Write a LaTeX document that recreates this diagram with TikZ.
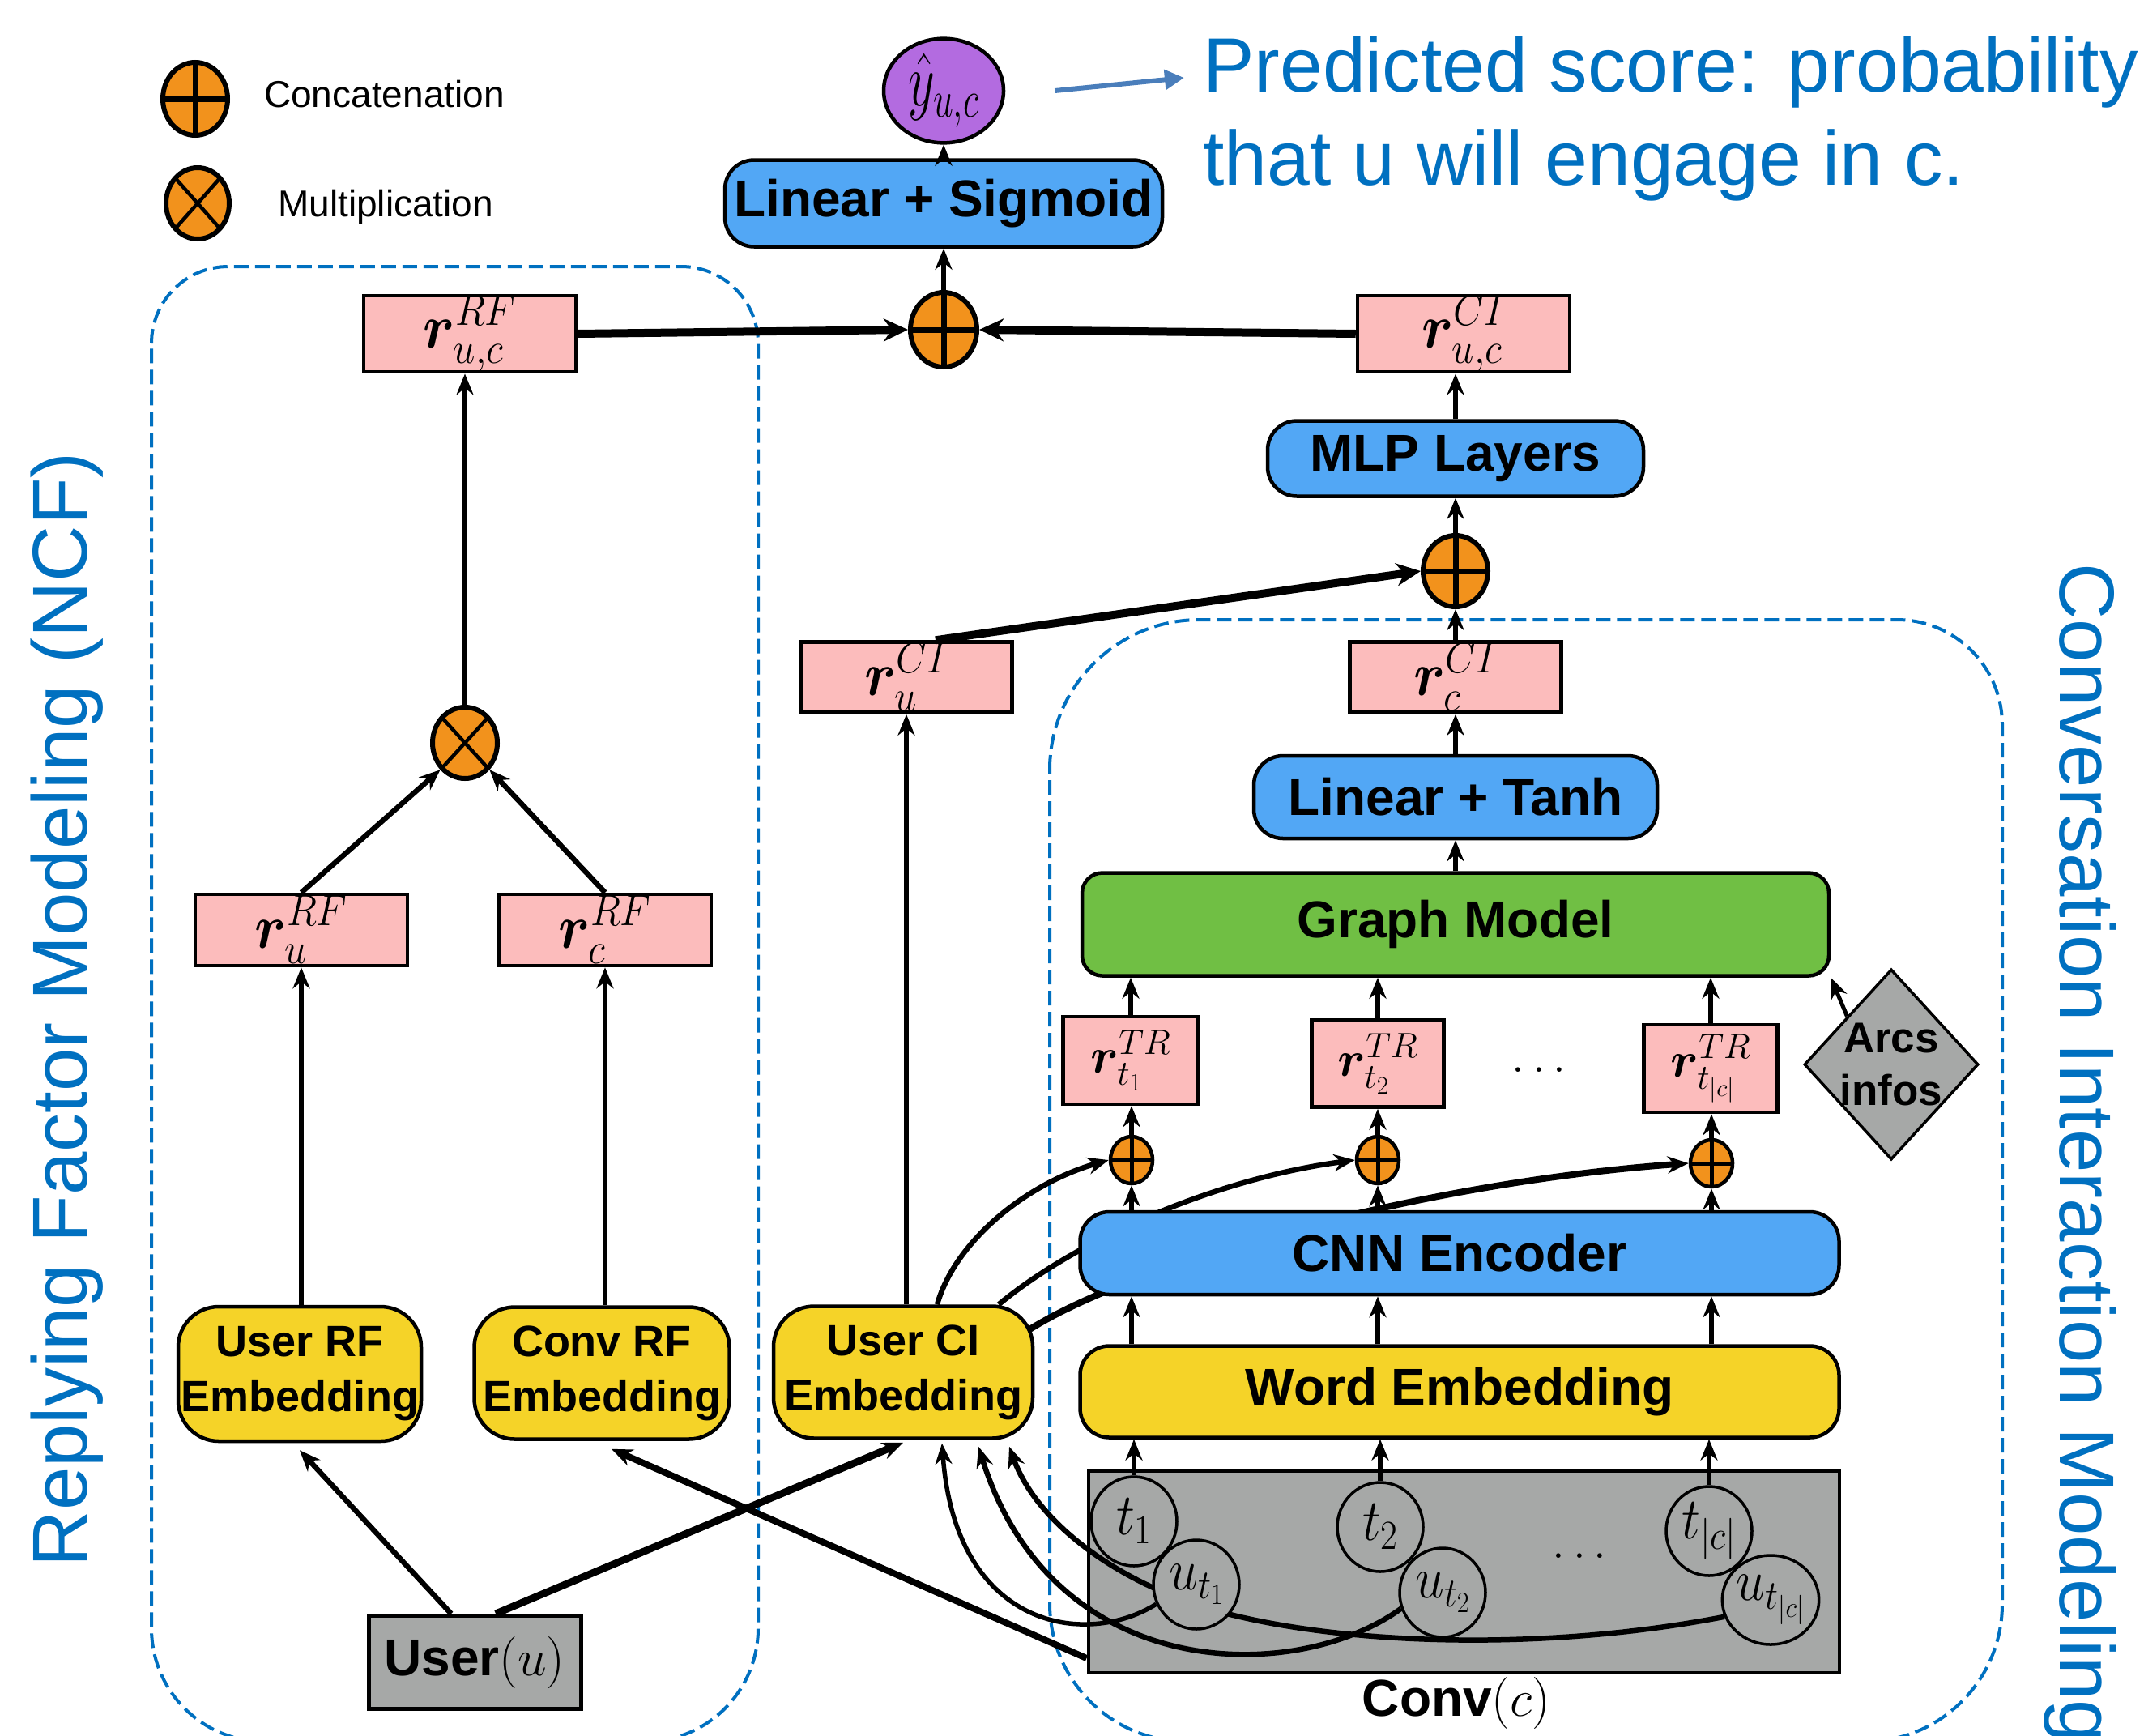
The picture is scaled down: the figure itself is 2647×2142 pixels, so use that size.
\RequirePackage{fix-cm}
\documentclass[tikz,border=0pt]{standalone}
\usepackage[no-math]{fontspec}
\setmainfont{Liberation Sans}
\usepackage{bm}
\usetikzlibrary{shapes.geometric,arrows.meta,calc}
\pgfdeclarelayer{bg}
\pgfdeclarelayer{mid}
\pgfsetlayers{bg,mid,main}
\definecolor{cblue}{RGB}{82,167,245}
\definecolor{cyel}{RGB}{245,211,40}
\definecolor{cgreen}{RGB}{112,191,68}
\definecolor{cpink}{RGB}{252,188,188}
\definecolor{cgray}{RGB}{166,168,167}
\definecolor{corange}{RGB}{242,146,28}
\definecolor{cpurple}{RGB}{179,107,224}
\definecolor{tblue}{RGB}{0,112,192}
\definecolor{sblue}{RGB}{74,126,187}
\newcommand\tokm[1]{\scalebox{1.15}[1.3]{$#1$}}
\tikzset{
 blk/.style={draw, line width=4.5pt, inner sep=0pt},
 ibox/.style={blk, rounded corners=36pt, font=\fontsize{64}{70}\selectfont\bfseries},
 emb/.style={blk, fill=cyel, rounded corners=50pt, align=center, font=\fontsize{54}{68}\selectfont\bfseries},
 rbox/.style={blk, fill=cpink, minimum width=262pt, minimum height=88pt, font=\fontsize{70}{70}\selectfont},
 tbox/.style={blk, fill=cpink, font=\fontsize{62}{62}\selectfont},
 tok/.style={ellipse, draw, line width=3.5pt, fill=cgray, minimum width=106pt, minimum height=110pt, inner sep=0pt, font=\fontsize{56}{56}\selectfont},
 catbase/.style={ellipse, draw, fill=corange, inner sep=0pt},
 cat/.style={catbase, line width=6pt, minimum width=82pt, minimum height=92pt,
   path picture={\draw[line width=7pt] (path picture bounding box.north)--(path picture bounding box.south) (path picture bounding box.west)--(path picture bounding box.east);}},
 scat/.style={catbase, line width=4.5pt, minimum width=52pt, minimum height=58pt,
   path picture={\draw[line width=5pt] (path picture bounding box.north)--(path picture bounding box.south) (path picture bounding box.west)--(path picture bounding box.east);}},
 mul/.style={catbase, line width=6pt, minimum width=80pt, minimum height=88pt,
   path picture={\draw[line width=4.5pt] (path picture bounding box.north west)--(path picture bounding box.south east) (path picture bounding box.north east)--(path picture bounding box.south west);}},
 arr/.style={line width=6.5pt, -{Stealth[length=26pt,width=21pt]}},
 thk/.style={line width=10pt, -{Stealth[length=30pt,width=28pt]}},
 crv/.style={line width=6.5pt, -{Stealth[length=26pt,width=21pt]}},
 dbox/.style={draw=tblue, line width=4pt, dash pattern=on 18pt off 8pt},
 side/.style={text=tblue, inner sep=0pt, font=\fontsize{96}{96}\selectfont}
}
\begin{document}
\begin{tikzpicture}[x=1pt,y=-1pt]
\useasboundingbox (0,0) rectangle (2647,2142);

\begin{pgfonlayer}{bg}
\fill[white] (0,0) rectangle (2647,2142);
% Replying factor region
\path[dbox] (187,424) .. controls (187,371.5) and (229.5,329) .. (282,329) -- (841,329)
  .. controls (893.5,329) and (936,371.5) .. (936,424) -- (936,2010)
  .. controls (936,2087.3) and (873.3,2150) .. (796,2150) -- (327,2150)
  .. controls (249.7,2150) and (187,2087.3) .. (187,2010) -- cycle;
% Conversation interaction region
\path[dbox] (1296,950) .. controls (1296,847.8) and (1378.8,765) .. (1481,765) -- (2342,765)
  .. controls (2413.8,765) and (2472,823.2) .. (2472,895) -- (2472,1980)
  .. controls (2472,2073.9) and (2395.9,2150) .. (2302,2150) -- (1466,2150)
  .. controls (1372.1,2150) and (1296,2073.9) .. (1296,1980) -- cycle;
\node[blk, line width=4pt, fill=cgray, minimum width=927pt, minimum height=249pt] (conv) at (1807,1940) {};
\end{pgfonlayer}

% legend
\node[cat, minimum width=80pt, minimum height=90pt] (lgc) at (241,122) {};
\node[anchor=base west, inner sep=0pt, font=\fontsize{46}{46}\selectfont] (lgct) at (326,132) {Concatenation};
\node[mul, minimum width=78pt, minimum height=88pt] (lgm) at (244,251) {};
\node[anchor=base west, inner sep=0pt, font=\fontsize{46}{46}\selectfont] (lgmt) at (343,267) {Multiplication};

% side titles
\node[side, rotate=90, anchor=base] (lside) at (107,1246) {Replying Factor Modeling (NCF)};
\node[side, rotate=-90, anchor=base] (rside) at (2543,1424) {Conversation Interaction Modeling};

% top part
\node[ellipse, draw, line width=4.5pt, fill=cpurple, minimum width=148pt, minimum height=108pt, inner sep=0pt, font=\fontsize{58}{58}\selectfont] (yhat) at (1165,112) {\scalebox{1.1}[1.6]{$\hat{y}_{u,c}$}};
\node[anchor=base west, align=left, text=tblue, inner sep=0pt, font=\fontsize{95}{115}\selectfont] (pred) at (1485,228) {Predicted score: probability\\that u will engage in c.};
\coordinate (predtip) at (1462,96);
\node[ibox, fill=cblue, minimum width=540pt, minimum height=107pt] (lsig) at (1165,251) {Linear + Sigmoid};
\node[cat] (ctop) at (1165,407) {};
\node[rbox] (rRFuc) at (580,412) {\scalebox{1}[1.1]{$\bm{r}^{RF}_{u,c}$}};
\node[rbox] (rCIuc) at (1807,412) {\scalebox{1}[1.1]{$\bm{r}^{CI}_{u,c}$}};
\node[ibox, fill=cblue, minimum width=464pt, minimum height=93pt] (mlp) at (1797,566) {MLP Layers};
\node[cat, minimum width=80pt, minimum height=88pt] (cci) at (1797,705) {};
\node[rbox, minimum width=261pt, minimum height=87pt] (rCIc) at (1797,836) {\scalebox{1}[1.1]{$\bm{r}^{CI}_{c}$}};
\node[rbox, minimum width=261pt, minimum height=87pt] (rCIu) at (1119,836) {\scalebox{1}[1.1]{$\bm{r}^{CI}_{u}$}};

% CI column
\node[ibox, fill=cblue, minimum width=498pt, minimum height=102pt] (ltanh) at (1797,984) {Linear + Tanh};
\node[ibox, fill=cgreen, rounded corners=25pt, minimum width=922pt, minimum height=127pt] (graph) at (1797,1141) {Graph Model};
\node[tbox, minimum width=167pt, minimum height=108pt] (rt1) at (1396,1309) {$\bm{r}^{TR}_{t_1}$};
\node[tbox, minimum width=163pt, minimum height=107pt] (rt2) at (1701,1313) {$\bm{r}^{TR}_{t_2}$};
\node[tbox, minimum width=165pt, minimum height=108pt] (rtc) at (2112,1319) {$\bm{r}^{TR}_{t_{|c|}}$};
\node[inner sep=0pt, font=\fontsize{58}{58}\selectfont] (dots1) at (1900,1321) {$\ldots$};
\node[diamond, draw, line width=3.5pt, fill=cgray, minimum width=215pt, minimum height=235pt, inner sep=0pt,
  label={[font=\fontsize{53}{65}\selectfont\bfseries, align=center]center:Arcs\\infos}] (arcs) at (2335,1314) {};
\node[scat] (c1) at (1397,1432) {};
\node[scat] (c2) at (1701,1432) {};
\node[scat] (c3) at (2113,1436) {};
\node[ibox, fill=cblue, minimum width=937pt, minimum height=102pt] (cnn) at (1802,1547) {CNN Encoder};
\node[ibox, fill=cyel, minimum width=937pt, minimum height=113pt] (wemb) at (1802,1718) {Word Embedding};

% conversation tokens
\node[tok] (t1) at (1400,1878) {\tokm{t_1}};
\node[tok] (t2) at (1704,1885) {\tokm{t_2}};
\node[tok] (tc) at (2110,1890) {\tokm{t_{|c|}}};
\node[tok] (ut1) at (1477,1956) {\tokm{u_{t_1}}};
\node[tok] (ut2) at (1781,1966) {\tokm{u_{t_2}}};
\node[tok] (utc) at (2186,1975) {\tokm{u_{t_{|c|}}}};
\node[inner sep=0pt, font=\fontsize{58}{58}\selectfont] (dots2) at (1950,1921) {$\ldots$};
\node[font=\fontsize{64}{64}\selectfont\bfseries] (convlbl) at (1798,2102) {Conv$(c)$};

% RF side
\node[emb, minimum width=300pt, minimum height=166pt] (uRF) at (370,1696) {User RF\\Embedding};
\node[emb, minimum width=315pt, minimum height=163pt] (cRF) at (743,1695) {Conv RF\\Embedding};
\node[emb, minimum width=320pt, minimum height=163pt] (uCI) at (1115,1694) {User CI\\Embedding};
\node[blk, line width=5pt, fill=cgray, minimum width=262pt, minimum height=115pt, font=\fontsize{64}{64}\selectfont\bfseries] (user) at (586,2052) {User$(u)$};
\node[rbox] (rRFu) at (372,1148) {\scalebox{1}[1.1]{$\bm{r}^{RF}_{u}$}};
\node[rbox] (rRFc) at (747,1148) {\scalebox{1}[1.1]{$\bm{r}^{RF}_{c}$}};
\node[mul] (mult) at (574,917) {};

% connectors
\draw[line width=6pt, sblue, -{Triangle[length=24pt,width=24pt]}] ([xshift=61pt]yhat.east) -- (predtip);
\draw[arr] (lsig.north) -- (yhat.south);
\draw[arr] (ctop.north) -- (lsig.south);
\draw[thk] (rRFuc.east) -- (ctop.west);
\draw[thk] (rCIuc.west) -- (ctop.east);
\draw[arr] (mlp.north) -- (mlp.north |- rCIuc.south);
\draw[arr] (cci.north) -- (mlp.south);
\draw[arr] (rCIc.north) -- (cci.south);
\draw[thk] ([xshift=36pt]rCIu.north) -- (cci.west);
\draw[arr] (ltanh.north) -- (rCIc.south);
\draw[arr] (graph.north) -- (ltanh.south);
\draw[arr] (rt1.north) -- (rt1.north |- graph.south);
\draw[arr] (rt2.north) -- (rt2.north |- graph.south);
\draw[arr] (rtc.north) -- (rtc.north |- graph.south);
\draw[arr, line width=5pt] (arcs.north west) -- (graph.south east);
\draw[arr] (c1.north) -- (c1.north |- rt1.south);
\draw[arr] (c2.north) -- (c2.north |- rt2.south);
\draw[arr] (c3.north) -- (c3.north |- rtc.south);
\draw[arr] (c1.south |- cnn.north) -- (c1.south);
\draw[arr] (c2.south |- cnn.north) -- (c2.south);
\draw[arr] (c3.south |- cnn.north) -- (c3.south);
\draw[arr] (c1.south |- wemb.north) -- (c1.south |- cnn.south);
\draw[arr] (c2.south |- wemb.north) -- (c2.south |- cnn.south);
\draw[arr] (c3.south |- wemb.north) -- (c3.south |- cnn.south);
\draw[arr] (t1.north) -- (t1.north |- wemb.south);
\draw[arr] (t2.north) -- (t2.north |- wemb.south);
\draw[arr] (tc.north) -- (tc.north |- wemb.south);
\draw[arr] (rCIu.south |- uCI.north) -- (rCIu.south);
\draw[arr] (rRFu.south |- uRF.north) -- (rRFu.south);
\draw[arr] (rRFc.south |- cRF.north) -- (rRFc.south);
\draw[arr] (rRFu.north) -- (mult.south west);
\draw[arr] (rRFc.north) -- (mult.south east);
\draw[arr] (mult.north) -- (mult.north |- rRFuc.south);
\draw[arr] ([xshift=-29pt]user.north) -- ([yshift=-9pt]uRF.south);
\draw[arr, line width=9pt] ([xshift=26pt]user.north) -- ([yshift=-3pt]uCI.south);
\draw[arr, line width=8pt] ([yshift=-107pt]conv.west) -- ([xshift=12pt,yshift=-10pt]cRF.south);

\begin{pgfonlayer}{mid}
\draw[crv, line width=5.5pt] (ut1.206) .. controls (1340,2035) and (1180,2010) .. ([xshift=48pt,yshift=-4pt]uCI.south);
\draw[crv] (ut2.201) .. controls (1600,2080) and (1300,2080) .. ([xshift=93pt,yshift=-8pt]uCI.south);
\draw[crv] (utc.200) .. controls (1900,2040) and (1650,2030) .. (1500,1988) .. controls (1380,1954) and (1280,1880) .. ([xshift=131pt,yshift=-8pt]uCI.south);
\draw[crv] ([xshift=42pt]uCI.north) .. controls (1180,1530) and (1270,1460) .. (c1.west);
\draw[crv] ([xshift=118pt]uCI.north) .. controls (1330,1530) and (1500,1455) .. (c2.west);
\draw[crv, line width=8pt] ([xshift=-6pt,yshift=53pt]uCI.east) .. controls (1400,1560) and (1750,1460) .. (c3.west);
\end{pgfonlayer}
\end{tikzpicture}
\end{document}
